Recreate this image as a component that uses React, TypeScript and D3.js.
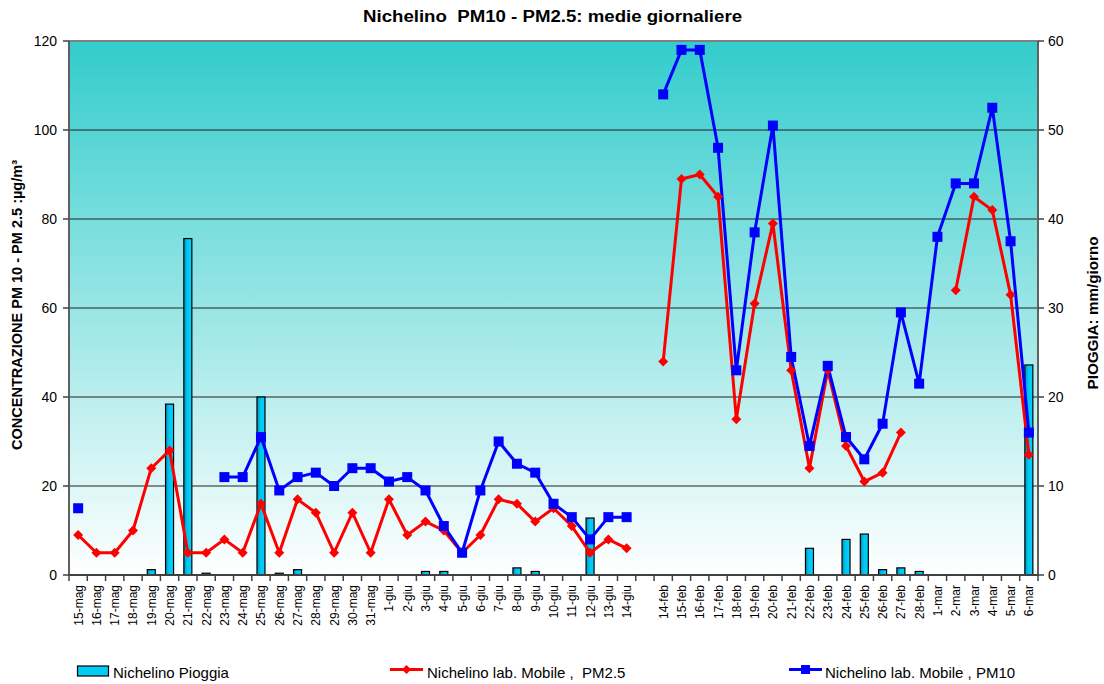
import React from "react";
import * as d3 from "d3";

const categories: string[] = [
  "15-mag","16-mag","17-mag","18-mag","19-mag","20-mag","21-mag","22-mag","23-mag","24-mag",
  "25-mag","26-mag","27-mag","28-mag","29-mag","30-mag","31-mag",
  "1-giu","2-giu","3-giu","4-giu","5-giu","6-giu","7-giu","8-giu","9-giu","10-giu",
  "11-giu","12-giu","13-giu","14-giu",
  " ",
  "14-feb","15-feb","16-feb","17-feb","18-feb","19-feb","20-feb","21-feb","22-feb","23-feb",
  "24-feb","25-feb","26-feb","27-feb","28-feb",
  "1-mar","2-mar","3-mar","4-mar","5-mar","6-mar",
];

const pm25: (number | null)[] = [
  9,5,5,10,24,28,5,5,8,5,
  16,5,17,14,5,14,5,
  17,9,12,10,5,9,17,16,12,15,
  11,5,8,6,
  null,
  48,89,90,85,35,61,79,46,24,46,
  29,21,23,32,null,
  null,64,85,82,63,27,
];

const pm10: (number | null)[] = [
  15,null,null,null,null,null,null,null,22,22,
  31,19,22,23,20,24,24,
  21,22,19,11,5,19,30,25,23,16,
  13,8,13,13,
  null,
  108,118,118,96,46,77,101,49,29,47,
  31,26,34,59,43,
  76,88,88,105,75,32,
];

const rain: number[] = [
  0,0,0,0,0.6,19.2,37.8,0.2,0,0,
  20,0.2,0.6,0,0,0,0,
  0,0,0.4,0.4,0,0,0,0.8,0.4,0,
  0,6.4,0,0,
  0,
  0,0,0,0,0,0,0,0,3,0,
  4,4.6,0.6,0.8,0.4,
  0,0,0,0,0,23.6,
];

const leftTicks: number[] = [0, 20, 40, 60, 80, 100, 120];
const rightTicks: number[] = [0, 10, 20, 30, 40, 50, 60];

const W = 1104;
const H = 684;
const M = { left: 69, right: 1038, top: 41, bottom: 575 };
const FONT = "'Liberation Sans', Arial, Helvetica, sans-serif";

export default function App() {
  const x = d3.scaleBand<string>().domain(categories).range([M.left, M.right]).paddingInner(0).paddingOuter(0);
  const yL = d3.scaleLinear().domain([0, 120]).range([M.bottom, M.top]);
  const yR = d3.scaleLinear().domain([0, 60]).range([M.bottom, M.top]);
  const cx = (i: number) => (x(categories[i]) as number) + x.bandwidth() / 2;

  const line = d3
    .line<number | null>()
    .defined((d) => d != null)
    .x((_, i) => cx(i))
    .y((d) => yL(d as number));

  const barW = 8;

  const diamond = (px: number, py: number, r = 5) =>
    `M${px},${py - r}L${px + r},${py}L${px},${py + r}L${px - r},${py}Z`;

  return (
    <svg
      width={W}
      height={H}
      style={{ position: "absolute", left: 0, top: 0, background: "#fff" }}
      fontFamily={FONT}
    >
      <defs>
        <linearGradient id="bg" x1="0" y1="0" x2="0" y2="1">
          <stop offset="0%" stopColor="#33CCCC" />
          <stop offset="100%" stopColor="#FFFFFF" />
        </linearGradient>
        <linearGradient id="barG" x1="0" y1="0" x2="1" y2="0">
          <stop offset="0%" stopColor="#0090C0" />
          <stop offset="45%" stopColor="#00C8F0" />
          <stop offset="100%" stopColor="#00D0FF" />
        </linearGradient>
      </defs>

      <text
        x={552.5}
        y={22}
        textAnchor="middle"
        fontSize={16}
        fontWeight="bold"
        fill="#000"
        textLength={379}
        lengthAdjust="spacingAndGlyphs"
        style={{ whiteSpace: "pre" }}
      >
        {"Nichelino  PM10 - PM2.5: medie giornaliere"}
      </text>

      <rect x={M.left} y={M.top} width={M.right - M.left} height={M.bottom - M.top} fill="url(#bg)" />

      {leftTicks.slice(1, -1).map((t) => (
        <line key={"g" + t} x1={M.left} x2={M.right} y1={yL(t)} y2={yL(t)} stroke="#222" strokeWidth={1.2} />
      ))}
      <line x1={M.left} x2={M.right} y1={M.top} y2={M.top} stroke="#808080" strokeWidth={2} />

      {/* rain bars */}
      {rain.map((v, i) =>
        v > 0 ? (
          <rect
            key={"b" + i}
            x={cx(i) - barW / 2}
            y={yR(v)}
            width={barW}
            height={M.bottom - yR(v)}
            fill="url(#barG)"
            stroke="#000"
            strokeWidth={1.2}
          />
        ) : null
      )}

      {/* axes */}
      <line x1={M.left} x2={M.left} y1={M.top} y2={M.bottom} stroke="#606060" strokeWidth={2} />
      <line x1={M.right} x2={M.right} y1={M.top} y2={M.bottom} stroke="#606060" strokeWidth={2} />
      <line x1={M.left} x2={M.right} y1={M.bottom} y2={M.bottom} stroke="#404040" strokeWidth={2} />

      {leftTicks.map((t) => (
        <g key={"l" + t}>
          <line x1={M.left - 6} x2={M.left} y1={yL(t)} y2={yL(t)} stroke="#404040" strokeWidth={1.5} />
          <text x={57} y={yL(t)} dy="0.35em" textAnchor="end" fontSize={14} fill="#000">
            {t}
          </text>
        </g>
      ))}
      {rightTicks.map((t) => (
        <g key={"r" + t}>
          <line x1={M.right} x2={M.right + 6} y1={yR(t)} y2={yR(t)} stroke="#404040" strokeWidth={1.5} />
          <text x={1048} y={yR(t)} dy="0.35em" textAnchor="start" fontSize={14} fill="#000">
            {t}
          </text>
        </g>
      ))}

      {/* x ticks */}
      {categories.map((c, i) => (
        <line
          key={"xt" + i}
          x1={x(c) as number}
          x2={x(c) as number}
          y1={M.bottom}
          y2={M.bottom + 6}
          stroke="#404040"
          strokeWidth={1.5}
        />
      ))}
      <line x1={M.right} x2={M.right} y1={M.bottom} y2={M.bottom + 6} stroke="#404040" strokeWidth={1.5} />
      {categories.map((c, i) => (
        <text
          key={"xl" + i}
          transform={`translate(${cx(i) + 4.5},${585}) rotate(-90)`}
          textAnchor="end"
          fontSize={12}
          fill="#000"
        >
          {c.trim()}
        </text>
      ))}

      {/* lines */}
      <path d={line(pm25) || ""} fill="none" stroke="#FF0000" strokeWidth={3} strokeLinejoin="round" />
      <path d={line(pm10) || ""} fill="none" stroke="#0000FF" strokeWidth={3} strokeLinejoin="round" />

      {pm25.map((v, i) =>
        v == null ? null : <path key={"d" + i} d={diamond(cx(i), yL(v))} fill="#FF0000" />
      )}
      {pm10.map((v, i) =>
        v == null ? null : (
          <rect key={"s" + i} x={cx(i) - 5} y={yL(v) - 5} width={10} height={10} fill="#0000FF" />
        )
      )}

      {/* axis titles */}
      <text
        transform={`translate(22,305) rotate(-90)`}
        textAnchor="middle"
        fontSize={14}
        fontWeight="bold"
        fill="#000"
        textLength={290}
        lengthAdjust="spacingAndGlyphs"
      >
        CONCENTRAZIONE PM 10 - PM 2.5 :µg/m³
      </text>
      <text
        transform={`translate(1098,313) rotate(-90)`}
        textAnchor="middle"
        fontSize={14}
        fontWeight="bold"
        fill="#000"
        textLength={153}
        lengthAdjust="spacingAndGlyphs"
      >
        PIOGGIA: mm/giorno
      </text>

      {/* legend */}
      <rect x={77.5} y={666} width={31} height={10} fill="#00CCF5" stroke="#000" strokeWidth={1.2} />
      <text x={113} y={677.5} fontSize={15} fill="#000">
        Nichelino Pioggia
      </text>

      <line x1={390} x2={423} y1={669.5} y2={669.5} stroke="#FF0000" strokeWidth={3} />
      <path d={diamond(406.5, 669.5, 4.5)} fill="#FF0000" />
      <text x={427} y={677.5} fontSize={15} fill="#000" style={{ whiteSpace: "pre" }}>
        {"Nichelino lab. Mobile ,  PM2.5"}
      </text>

      <line x1={789} x2={822} y1={669.5} y2={669.5} stroke="#0000FF" strokeWidth={3} />
      <rect x={801} y={665} width={9} height={9} fill="#0000FF" />
      <text x={825} y={677.5} fontSize={15} fill="#000">
        Nichelino lab. Mobile , PM10
      </text>
    </svg>
  );
}
